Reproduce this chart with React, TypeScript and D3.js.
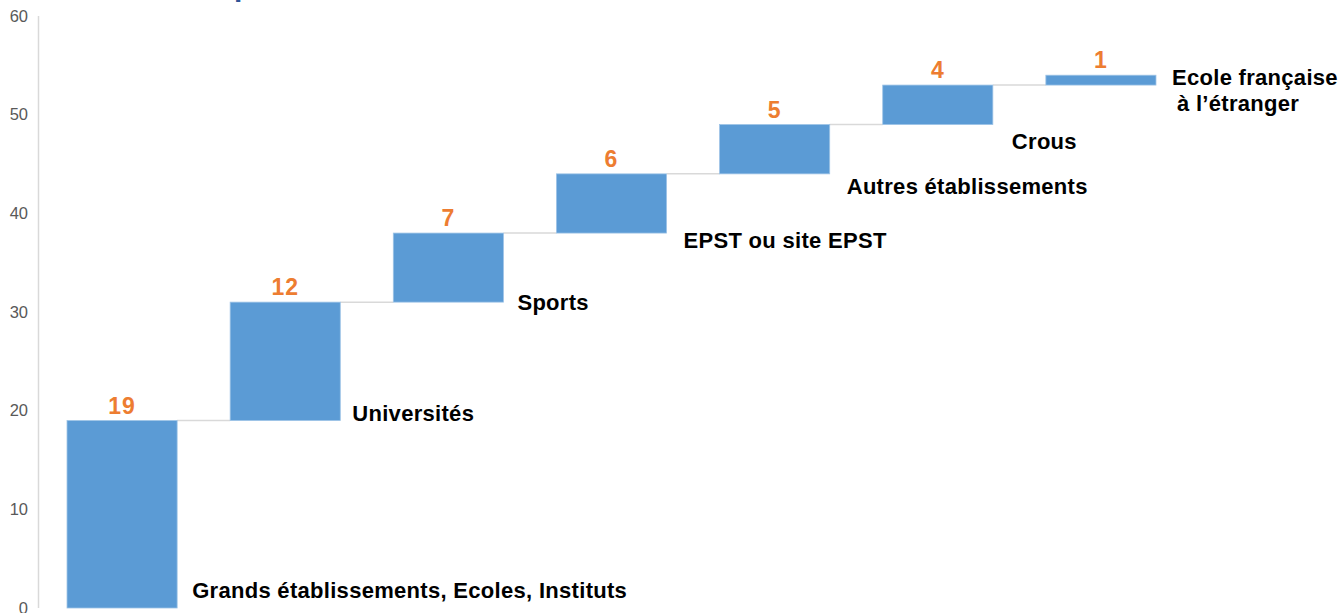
import React from 'react';
import * as d3 from 'd3';

const categories = [
  'Grands établissements, Ecoles, Instituts',
  'Universités',
  'Sports',
  'EPST ou site EPST',
  'Autres établissements',
  'Crous',
  'Ecole française à l’étranger',
];
const values = [19, 12, 7, 6, 5, 4, 1];
const yTicks = [0, 10, 20, 30, 40, 50, 60];

// label placement relative to bar right edge / bar bottom (px)
const labelDx = [15, 12, 14, 17, 17, 19, 16];
const labelDy = [-10, 0, 8, 15, 20, 24, 0];

const W = 1339;
const H = 613;

const App: React.FC = () => {
  const y = d3.scaleLinear().domain([0, 60]).range([608, 16]);
  const x = d3.scaleBand<string>()
    .domain(categories)
    .range([37, 1186])
    .paddingInner(0.325)
    .paddingOuter(0.184);

  let run = 0;
  const bars = values.map((v, i) => {
    const start = run;
    run += v;
    return { cat: categories[i], v, start, end: run };
  });

  const font = '"Liberation Sans", Arial, sans-serif';

  return (
    <svg width={W} height={H} style={{ position: 'absolute', left: 0, top: 0, background: '#fff' }}>
      {/* clipped title remnant */}
      <text x={234} y={-4} fontFamily={font} fontWeight="bold" fontSize={30} fill="#2f5597">p</text>

      {/* y axis */}
      <line x1={38.5} x2={38.5} y1={y(60)} y2={y(0)} stroke="#d9d9d9" strokeWidth={1.5} />
      {yTicks.map(t => (
        <text key={t} x={28} y={y(t)} dy="0.35em" textAnchor="end" fontFamily={font} fontSize={16.5} fill="#595959">{t}</text>
      ))}

      {/* connectors */}
      {bars.slice(0, -1).map((b, i) => (
        <line key={'c' + i}
          x1={(x(b.cat) || 0) + x.bandwidth()}
          x2={x(bars[i + 1].cat) || 0}
          y1={y(b.end)} y2={y(b.end)}
          stroke="#d9d9d9" strokeWidth={1.5} />
      ))}

      {/* bars */}
      {bars.map(b => (
        <rect key={b.cat}
          x={x(b.cat)}
          y={y(b.end)}
          width={x.bandwidth()}
          height={y(b.start) - y(b.end)}
          fill="#5b9bd5"
          stroke="#9dc3e6" strokeWidth={0.8} />
      ))}

      {/* value labels */}
      {bars.map(b => (
        <text key={'v' + b.cat}
          x={(x(b.cat) || 0) + x.bandwidth() / 2}
          y={y(b.end) - 7}
          textAnchor="middle" fontFamily={font} fontWeight="bold" fontSize={23} letterSpacing={1} fill="#ed7d31">{b.v}</text>
      ))}

      {/* category labels */}
      {bars.map((b, i) => {
        const lx = (x(b.cat) || 0) + x.bandwidth() + labelDx[i];
        const ly = y(b.start) + labelDy[i];
        if (i === bars.length - 1) {
          return (
            <text key={'l' + b.cat} x={lx} y={ly} fontFamily={font} fontWeight="bold" fontSize={22} letterSpacing={0.3} fill="#000">
              <tspan x={lx}>Ecole française</tspan>
              <tspan x={lx + 5} dy={26}>à l’étranger</tspan>
            </text>
          );
        }
        return (
          <text key={'l' + b.cat} x={lx} y={ly} fontFamily={font} fontWeight="bold" fontSize={22} letterSpacing={0.3} fill="#000">{b.cat}</text>
        );
      })}
    </svg>
  );
};

export default App;
